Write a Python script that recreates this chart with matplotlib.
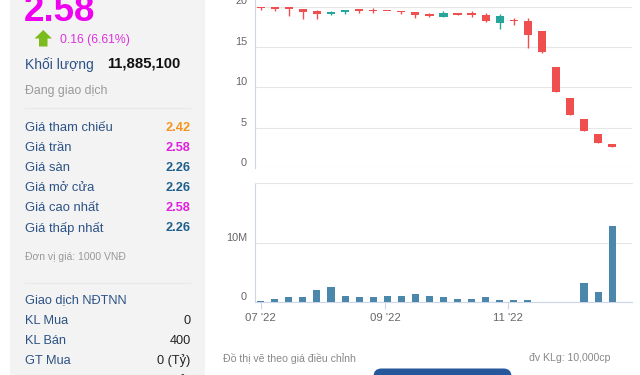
import matplotlib.pyplot as plt
import matplotlib.dates as mdates
from matplotlib.patches import Rectangle, Polygon, FancyBboxPatch
from datetime import datetime, timedelta

plt.rcParams['font.family'] = ['Liberation Sans', 'DejaVu Sans']

# weekly candles Jul - Dec 2022, price in 1000 VND
opens  = [20.0, 19.75, 19.8, 19.7, 19.4, 19.05, 19.35, 19.5, 19.47, 19.45, 19.35, 19.3, 19.0,
          18.75, 19.05, 19.2, 18.95, 18.0, 18.2, 18.24, 17.0, 12.5, 8.75, 6.15, 4.28, 3.0]
highs  = [20.0, 19.9, 19.85, 19.72, 19.6, 19.5, 19.55, 19.7, 19.8, 19.45, 19.5, 19.32, 19.15,
          19.45, 19.1, 19.4, 19.2, 19.05, 18.55, 18.54, 17.0, 12.5, 8.75, 6.15, 4.28, 3.0]
lows   = [19.55, 19.45, 18.85, 18.45, 18.45, 19.0, 19.1, 19.25, 19.25, 19.4, 19.1, 18.6, 18.75,
          18.75, 18.95, 18.75, 18.1, 17.2, 17.7, 14.83, 14.3, 9.45, 6.6, 4.6, 3.16, 2.58]
closes = [19.8, 19.7, 19.72, 19.3, 19.1, 19.3, 19.5, 19.45, 19.4, 19.4, 19.3, 18.95, 18.88,
          19.2, 18.98, 19.0, 18.15, 18.85, 18.15, 16.51, 14.41, 9.45, 6.6, 4.6, 3.16, 2.58]
# weekly volume, millions of shares
volumes = [0.3, 0.5, 0.85, 0.85, 2.1, 2.6, 1.1, 0.95, 0.85, 1.1, 1.1, 1.45, 1.0,
           0.85, 0.5, 0.5, 0.95, 0.35, 0.35, 0.45, 0, 0, 0, 3.2, 1.75, 12.9]

price_ticks = [0, 5, 10, 15, 20]
vol_ticks = [0, 10]
vol_tick_labels = ['0', '10M']

info_labels = ['Giá tham chiếu', 'Giá trần', 'Giá sàn', 'Giá mở cửa', 'Giá cao nhất', 'Giá thấp nhất']
info_values = ['2.42', '2.58', '2.26', '2.26', '2.58', '2.26']
info_colors = ['#f7941d', '#e020e0', '#1f5f8b', '#1f5f8b', '#e020e0', '#1f5f8b']
foreign_labels = ['KL Mua', 'KL Bán', 'GT Mua', 'GT Bán']
foreign_values = ['0', '400', '0 (Tỷ)', '0 (Tỷ)']

weeks = [datetime(2022, 7, 1) + timedelta(days=7 * i) for i in range(len(opens))]
xs = mdates.date2num(weeks)

UP, DOWN = '#26a69a', '#ef4f4f'
GRID, AXIS, LBL = '#e6e6e6', '#ccd6eb', '#666666'
NAVY = '#2d5286'

fig = plt.figure(figsize=(6.4, 3.75), dpi=100)


def box(x0, y0, x1, y1):
    return [x0 / 640, 1 - y1 / 375, (x1 - x0) / 640, (y1 - y0) / 375]


# background / left info panel, drawn in pixel coords
bg = fig.add_axes([0, 0, 1, 1])
bg.set_xlim(0, 640)
bg.set_ylim(375, 0)
bg.axis('off')
bg.add_patch(Rectangle((10, 0), 195, 375, color='#f3f3f3', lw=0))
bg.plot([25, 190], [108.3, 108.3], color='#e8e8e8', lw=0.8)
bg.plot([25, 190], [283.3, 283.3], color='#e8e8e8', lw=0.8)

bg.text(24, 20.7, '2.58', fontsize=26.5, fontweight='bold', color='#f000f0', va='baseline')
bg.add_patch(Polygon([(43.3, 30), (52, 38.5), (47.5, 38.5), (47.5, 46.5),
                      (39, 46.5), (39, 38.5), (34.5, 38.5)], color='#7cbb1e', lw=0))
bg.text(60, 40, '0.16 (6.61%)', fontsize=8.8, color='#dd33dd', va='center')
bg.text(25, 65, 'Khối lượng', fontsize=10, color=NAVY, va='center')
bg.text(107, 63.5, '11,885,100', fontsize=10.7, fontweight='bold', color='#111111', va='center')
bg.text(25, 90.7, 'Đang giao dịch', fontsize=8.8, color='#999999', va='center')

for i, (lab, val, col) in enumerate(zip(info_labels, info_values, info_colors)):
    y = 128.3 + 20 * i
    bg.text(25, y, lab, fontsize=9.4, color=NAVY, va='center')
    bg.text(190.7, y, val, fontsize=9.2, fontweight='bold', color=col, va='center', ha='right')
bg.text(25, 256.7, 'Đơn vị giá: 1000 VNĐ', fontsize=7.5, color='#999999', va='center')

bg.text(25, 300, 'Giao dịch NĐTNN', fontsize=9.2, color=NAVY, va='center')
for i, (lab, val) in enumerate(zip(foreign_labels, foreign_values)):
    y = 320.7 + 20 * i
    bg.text(25, y, lab, fontsize=9.2, color=NAVY, va='center')
    bg.text(190.7, y, val, fontsize=9.2, color='#222222', va='center', ha='right')

bg.text(223.3, 358.3, 'Đồ thị vẽ theo giá điều chỉnh', fontsize=7.6, color='#888888', va='center')
bg.text(610.7, 358.3, 'đv KLg: 10,000cp', fontsize=7.6, color='#888888', va='center', ha='right')
bg.add_patch(FancyBboxPatch((373.5, 368.5), 138, 20, boxstyle='round,pad=0,rounding_size=8',
                            color='#26579a', lw=0))

xmin = xs[0] - 3.0
xmax = xs[0] + 184.9

# price candles
ax = fig.add_axes(box(254.7, 0, 632, 168.3))
ax.set_facecolor('none')
for x, o, h, l, c in zip(xs, opens, highs, lows, closes):
    col = UP if c > o else DOWN
    ax.vlines(x, l, h, color=col, lw=1, zorder=2)
    ax.bar(x, max(abs(c - o), 0.2), bottom=min(o, c), width=4.1, color=col, lw=0, zorder=3)
ax.set_xlim(xmin, xmax)
ax.set_ylim(0, 20 + 6.5 / 8.09)
ax.set_yticks(price_ticks)
ax.set_yticklabels([str(t) for t in price_ticks])
ax.grid(axis='y', color=GRID, lw=0.8)
ax.set_axisbelow(True)
ax.tick_params(axis='y', length=0, pad=5.5, labelsize=7.8, labelcolor=LBL)
ax.tick_params(axis='x', bottom=False, labelbottom=False)
for s in ['top', 'right', 'bottom']:
    ax.spines[s].set_visible(False)
ax.spines['left'].set_color(AXIS)
ax.spines['left'].set_linewidth(0.8)
plt.setp(ax.get_yticklabels(), va='bottom')

# volume bars
axv = fig.add_axes(box(254.7, 183.3, 632, 302.3))
axv.set_facecolor('none')
axv.bar(xs, volumes, width=3.5, color='#4a87aa', lw=0, zorder=3)
axv.set_xlim(xmin, xmax)
axv.set_ylim(0, 20)
axv.set_yticks(vol_ticks)
axv.set_yticklabels(vol_tick_labels)
axv.grid(axis='y', color=GRID, lw=0.8)
axv.set_axisbelow(True)
axv.tick_params(axis='y', length=0, pad=5.5, labelsize=7.8, labelcolor=LBL)
plt.setp(axv.get_yticklabels(), va='bottom')
axv.xaxis.set_major_locator(mdates.MonthLocator(bymonth=[7, 9, 11]))
axv.xaxis.set_major_formatter(mdates.DateFormatter("%m '%y"))
axv.tick_params(axis='x', length=5, width=0.8, color=AXIS, pad=2.5, labelsize=8.2, labelcolor=LBL)
axv.spines['right'].set_visible(False)
axv.spines['top'].set_color(GRID)
axv.spines['top'].set_linewidth(0.8)
for s in ['left', 'bottom']:
    axv.spines[s].set_color(AXIS)
    axv.spines[s].set_linewidth(0.8)

fig.savefig('out.png', dpi=100)
